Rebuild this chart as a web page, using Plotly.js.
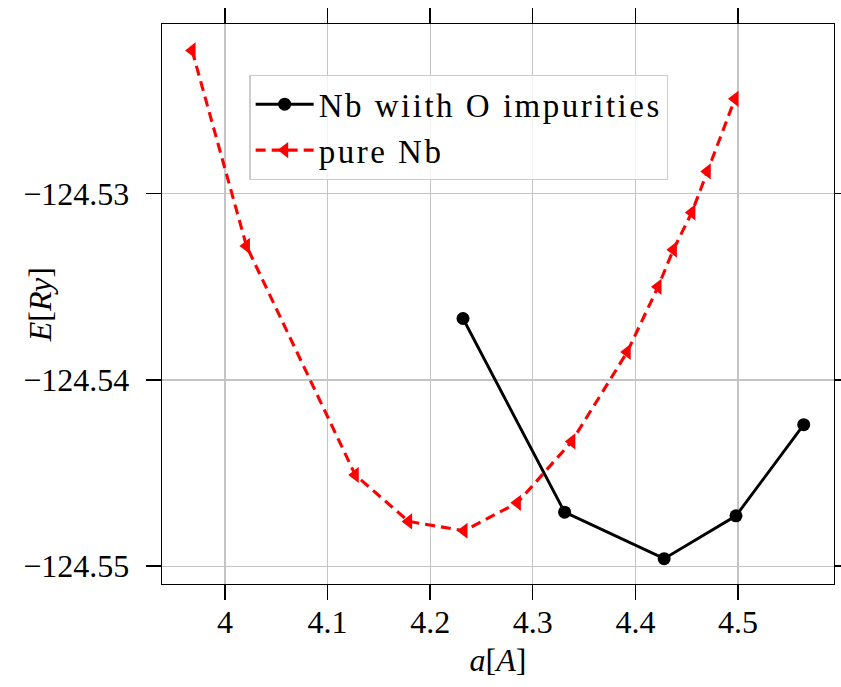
<!DOCTYPE html>
<html>
<head>
<meta charset="utf-8">
<script src="https://cdn.plot.ly/plotly-3.0.1.min.js"></script>
<style>
  html, body { margin: 0; padding: 0; background: #fff; }
  #chart { width: 841px; height: 687px; }
  /* slightly wider set for the legend entries */
  .legendtext { letter-spacing: 2.5px; }
</style>
</head>
<body>
<div id="chart"></div>
<script>
// Lattice parameter a [Å] and total energy E [Ry]
const latticeWithO = [4.232, 4.331, 4.428, 4.498, 4.564];
const energyWithO = [-124.5367, -124.5471, -124.5496, -124.5473, -124.5424];

const latticePure = [3.968, 4.021, 4.127, 4.179, 4.233, 4.285, 4.338, 4.392, 4.422, 4.437, 4.455, 4.470, 4.497];
const energyPure = [-124.5223, -124.5328, -124.5451, -124.5476, -124.5481, -124.5466, -124.5433,
                    -124.5385, -124.5350, -124.5330, -124.5310, -124.5288, -124.5249];

const seriesNames = ['Nb wiith O impurities', 'pure Nb'];
const xTitle = '<i>a</i>[<i>A</i>]';
const yTitle = '<i>E</i>[<i>Ry</i>]';

const serif = 'Liberation Serif, Times New Roman, serif';

const traces = [
  {
    x: latticeWithO, y: energyWithO, name: seriesNames[0],
    type: 'scatter', mode: 'lines+markers',
    line: { color: '#000000', width: 2.9 },
    marker: { symbol: 'circle', size: 13, color: '#000000' }
  },
  {
    x: latticePure, y: energyPure, name: seriesNames[1],
    type: 'scatter', mode: 'lines+markers',
    line: { color: '#ff0000', width: 3.1, dash: '10px,6px' },
    marker: { symbol: 'triangle-left', size: 14, color: '#ff0000' }
  }
];

const axisCommon = {
  showline: true, linecolor: '#000000', linewidth: 1.4, mirror: 'ticks',
  ticks: 'outside', ticklen: 15, tickwidth: 1.4, tickcolor: '#000000',
  showgrid: true, gridcolor: '#c4c4c4', gridwidth: 1.2,
  zeroline: false,
  tickfont: { family: serif, size: 32, color: '#000000' }
};

const layout = {
  width: 841, height: 687,
  margin: { l: 161.5, r: 7, t: 24, b: 103 },
  paper_bgcolor: '#ffffff', plot_bgcolor: '#ffffff',
  showlegend: true,
  xaxis: Object.assign({}, axisCommon, {
    range: [3.9387, 4.5935], dtick: 0.1, tick0: 4,
    ticklabelstandoff: -6,
    title: { text: xTitle, font: { family: serif, size: 32, color: '#000' }, standoff: 10 }
  }),
  yaxis: Object.assign({}, axisCommon, {
    range: [-124.55096, -124.52088], dtick: 0.01, tick0: -124.55, tickformat: '.2f',
    ticklabelstandoff: 10
  }),
  annotations: [{
    text: yTitle, xref: 'paper', yref: 'paper',
    x: -0.1814, y: 0.498, xanchor: 'center', yanchor: 'middle',
    textangle: -90, showarrow: false,
    font: { family: serif, size: 32, color: '#000' }
  }],
  legend: {
    x: 0.130, y: 0.909, xanchor: 'left', yanchor: 'top',
    bgcolor: 'rgba(255,255,255,0.8)', bordercolor: '#cccccc', borderwidth: 1.3,
    font: { family: serif, size: 33, color: '#000000' },
    itemwidth: 58, tracegroupgap: 0
  }
};

Plotly.newPlot('chart', traces, layout, { displayModeBar: false, staticPlot: true });
</script>
</body>
</html>
